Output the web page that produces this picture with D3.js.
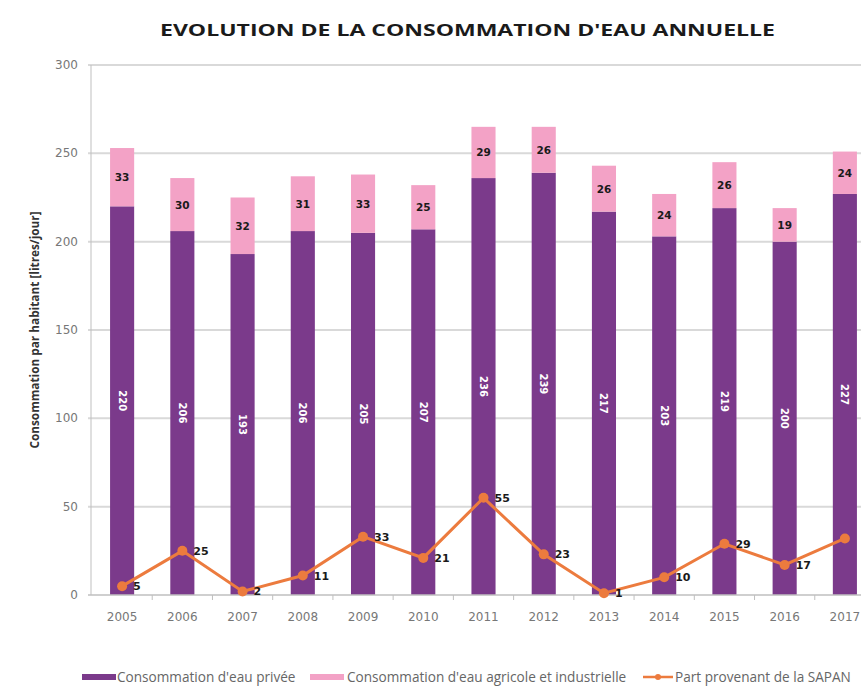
<!DOCTYPE html>
<html>
<head>
<meta charset="utf-8">
<style>
    html, body { margin: 0; padding: 0; background: #fff; overflow: hidden; }
    svg { display: block; }
    .tick-label { font-family: "DejaVu Sans", sans-serif; font-size: 12px; fill: #777; }
    .legend-text { font-family: "Open Sans", sans-serif; font-size: 13.6px; fill: #666; }
</style>
</head>
<body>
<svg id="chart"></svg>
<script src="https://cdn.jsdelivr.net/npm/d3@7"></script>
<script>
    "use strict"
    const width = 861;
    const height = 686;

    const years = ["2005", "2006", "2007", "2008", "2009", "2010", "2011", "2012", "2013", "2014", "2015", "2016", "2017"];
    const privee = [220, 206, 193, 206, 205, 207, 236, 239, 217, 203, 219, 200, 227];
    const agricole = [33, 30, 32, 31, 33, 25, 29, 26, 26, 24, 26, 19, 24];
    const sapan = [5, 25, 2, 11, 33, 21, 55, 23, 1, 10, 29, 17, 32];
    const yTicks = [0, 50, 100, 150, 200, 250, 300];

    const colPrivee = "#7b3a8b";
    const colAgri = "#f3a2c6";
    const colSapan = "#ec7b3e";

    const margin = { left: 92, top: 65, bottom: 595 };
    const plotRight = 875;

    const svg = d3.select("#chart")
        .attr("width", width)
        .attr("height", height);

    const x = d3.scaleBand()
        .domain(years)
        .range([margin.left, plotRight])
        .paddingInner(0.6)
        .paddingOuter(0.3);

    const y = d3.scaleLinear()
        .domain([0, 300])
        .range([margin.bottom, margin.top]);

    // title
    svg.append("text")
        .attr("x", 160)
        .attr("y", 36)
        .attr("textLength", 615)
        .attr("lengthAdjust", "spacingAndGlyphs")
        .style("font-family", "'Open Sans', sans-serif")
        .style("font-weight", "bold")
        .style("font-size", "16.5px")
        .style("fill", "#1a1a1a")
        .text("EVOLUTION DE LA CONSOMMATION D'EAU ANNUELLE");

    // gridlines
    svg.append("g")
        .selectAll("line")
        .data(yTicks.filter(d => d > 0))
        .join("line")
        .attr("x1", margin.left - 4)
        .attr("x2", width)
        .attr("y1", d => y(d))
        .attr("y2", d => y(d))
        .attr("stroke", "#d9d9d9")
        .attr("stroke-width", 2);

    // y tick labels
    svg.append("g")
        .selectAll("text")
        .data(yTicks)
        .join("text")
        .attr("class", "tick-label")
        .attr("x", 78)
        .attr("y", d => y(d) + 4)
        .attr("text-anchor", "end")
        .text(d => d);

    // y axis line
    svg.append("line")
        .attr("x1", margin.left - 1).attr("x2", margin.left - 1)
        .attr("y1", y(300)).attr("y2", y(0))
        .attr("stroke", "#bfbfbf").attr("stroke-width", 1);

    // y axis title
    svg.append("text")
        .attr("transform", `translate(39,${(y(0) + y(300)) / 2}) rotate(-90)`)
        .attr("text-anchor", "middle")
        .style("font-family", "'Open Sans', sans-serif")
        .style("font-weight", "bold")
        .style("font-size", "11.8px")
        .style("fill", "#333")
        .text("Consommation par habitant [litres/jour]");

    // bars
    const bars = svg.append("g");
    bars.selectAll(".b-priv")
        .data(years)
        .join("rect")
        .attr("x", d => x(d))
        .attr("width", x.bandwidth())
        .attr("y", (d, i) => y(privee[i]))
        .attr("height", (d, i) => y(0) - y(privee[i]))
        .attr("fill", colPrivee);

    bars.selectAll(".b-agri")
        .data(years)
        .join("rect")
        .attr("x", d => x(d))
        .attr("width", x.bandwidth())
        .attr("y", (d, i) => y(privee[i] + agricole[i]))
        .attr("height", (d, i) => y(privee[i]) - y(privee[i] + agricole[i]))
        .attr("fill", colAgri);

    // x axis
    svg.append("line")
        .attr("x1", margin.left - 4).attr("x2", width)
        .attr("y1", y(0)).attr("y2", y(0))
        .attr("stroke", "#bfbfbf").attr("stroke-width", 1.5);

    const step = x.step();
    svg.append("g")
        .selectAll("line")
        .data(years)
        .join("line")
        .attr("x1", d => x(d) + x.bandwidth() / 2 + step / 2)
        .attr("x2", d => x(d) + x.bandwidth() / 2 + step / 2)
        .attr("y1", y(0))
        .attr("y2", y(0) + 5)
        .attr("stroke", "#bfbfbf");

    svg.append("g")
        .selectAll("text")
        .data(years)
        .join("text")
        .attr("class", "tick-label")
        .attr("x", d => x(d) + x.bandwidth() / 2)
        .attr("y", 621)
        .attr("text-anchor", "middle")
        .text(d => d);

    // labels inside private bars (rotated)
    svg.append("g")
        .selectAll("text")
        .data(years)
        .join("text")
        .attr("transform", (d, i) => `translate(${x(d) + x.bandwidth() / 2 - 3.5},${(y(0) + y(privee[i])) / 2}) rotate(90)`)
        .attr("text-anchor", "middle")
        .style("font-family", "'DejaVu Sans', sans-serif")
        .style("font-weight", "bold")
        .style("font-size", "10px")
        .style("fill", "#fff")
        .text((d, i) => privee[i]);

    // labels in agricultural segment
    svg.append("g")
        .selectAll("text")
        .data(years)
        .join("text")
        .attr("x", d => x(d) + x.bandwidth() / 2)
        .attr("y", (d, i) => (y(privee[i]) + y(privee[i] + agricole[i])) / 2 + 4)
        .attr("text-anchor", "middle")
        .style("font-family", "'DejaVu Sans', sans-serif")
        .style("font-weight", "bold")
        .style("font-size", "10.5px")
        .style("fill", "#1a1a1a")
        .text((d, i) => agricole[i]);

    // SAPAN line
    const line = d3.line()
        .x(d => x(d.year) + x.bandwidth() / 2)
        .y(d => y(d.value));
    const lineData = years.map((yr, i) => ({ year: yr, value: sapan[i] }));

    svg.append("path")
        .datum(lineData)
        .attr("d", line)
        .attr("fill", "none")
        .attr("stroke", colSapan)
        .attr("stroke-width", 3);

    svg.append("g")
        .selectAll("circle")
        .data(lineData)
        .join("circle")
        .attr("cx", d => x(d.year) + x.bandwidth() / 2)
        .attr("cy", d => y(d.value))
        .attr("r", 5)
        .attr("fill", colSapan);

    // the chart is cropped on the right: labels that fall outside are not shown
    svg.append("g")
        .selectAll("text")
        .data(lineData.filter(d => x(d.year) + x.bandwidth() / 2 + 11 < width - 12))
        .join("text")
        .attr("x", d => x(d.year) + x.bandwidth() / 2 + 11)
        .attr("y", d => y(d.value) + 4)
        .style("font-family", "'DejaVu Sans', sans-serif")
        .style("font-weight", "bold")
        .style("font-size", "11px")
        .style("fill", "#1a1a1a")
        .text(d => d.value);

    // legend
    const legendY = 677;
    const legend = svg.append("g");
    legend.append("rect").attr("x", 82).attr("y", legendY - 3).attr("width", 34).attr("height", 6).attr("fill", colPrivee);
    legend.append("text").attr("class", "legend-text").attr("x", 117).attr("y", legendY + 4.5).text("Consommation d'eau privée");
    legend.append("rect").attr("x", 310).attr("y", legendY - 3).attr("width", 34).attr("height", 6).attr("fill", colAgri);
    legend.append("text").attr("class", "legend-text").attr("x", 347).attr("y", legendY + 4.5).text("Consommation d'eau agricole et industrielle");
    legend.append("line").attr("x1", 643).attr("x2", 673).attr("y1", legendY).attr("y2", legendY).attr("stroke", colSapan).attr("stroke-width", 2.5);
    legend.append("circle").attr("cx", 658).attr("cy", legendY).attr("r", 3).attr("fill", colSapan);
    legend.append("text").attr("class", "legend-text").attr("x", 675).attr("y", legendY + 4.5).text("Part provenant de la SAPAN");
</script>
</body>
</html>
